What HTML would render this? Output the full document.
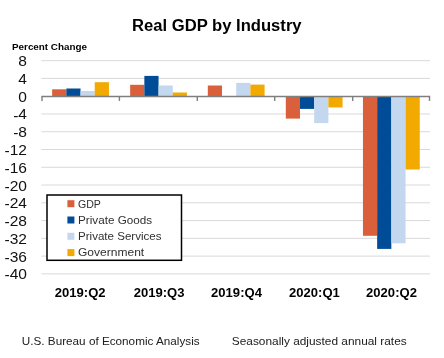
<!DOCTYPE html><html><head><meta charset="utf-8"><style>html,body{margin:0;padding:0;background:#fff;width:444px;height:358px;overflow:hidden}svg{display:block;will-change:transform}text{font-family:"Liberation Sans",sans-serif}</style></head><body>
<svg width="444" height="358" viewBox="0 0 444 358">
<rect width="444" height="358" fill="#fff"/>
<line x1="41.3" x2="430" y1="60.67" y2="60.67" stroke="#D9D9D9" stroke-width="1"/>
<line x1="41.3" x2="430" y1="78.43" y2="78.43" stroke="#D9D9D9" stroke-width="1"/>
<line x1="41.3" x2="430" y1="113.97" y2="113.97" stroke="#D9D9D9" stroke-width="1"/>
<line x1="41.3" x2="430" y1="131.73" y2="131.73" stroke="#D9D9D9" stroke-width="1"/>
<line x1="41.3" x2="430" y1="149.50" y2="149.50" stroke="#D9D9D9" stroke-width="1"/>
<line x1="41.3" x2="430" y1="167.27" y2="167.27" stroke="#D9D9D9" stroke-width="1"/>
<line x1="41.3" x2="430" y1="185.03" y2="185.03" stroke="#D9D9D9" stroke-width="1"/>
<line x1="41.3" x2="430" y1="202.80" y2="202.80" stroke="#D9D9D9" stroke-width="1"/>
<line x1="41.3" x2="430" y1="220.57" y2="220.57" stroke="#D9D9D9" stroke-width="1"/>
<line x1="41.3" x2="430" y1="238.33" y2="238.33" stroke="#D9D9D9" stroke-width="1"/>
<line x1="41.3" x2="430" y1="256.10" y2="256.10" stroke="#D9D9D9" stroke-width="1"/>
<line x1="41.3" x2="430" y1="273.87" y2="273.87" stroke="#D9D9D9" stroke-width="1"/>
<rect x="52.14" y="89.30" width="14.2" height="6.90" fill="#D9603B"/>
<rect x="66.34" y="88.50" width="14.2" height="7.70" fill="#004C97"/>
<rect x="80.54" y="91.00" width="14.2" height="5.20" fill="#C3D7EE"/>
<rect x="94.74" y="82.20" width="14.2" height="14.00" fill="#F2A900"/>
<rect x="130.15" y="84.80" width="14.2" height="11.40" fill="#D9603B"/>
<rect x="144.35" y="75.90" width="14.2" height="20.30" fill="#004C97"/>
<rect x="158.55" y="85.50" width="14.2" height="10.70" fill="#C3D7EE"/>
<rect x="172.75" y="92.50" width="14.2" height="3.70" fill="#F2A900"/>
<rect x="207.80" y="85.50" width="14.2" height="10.70" fill="#D9603B"/>
<rect x="236.20" y="82.90" width="14.2" height="13.30" fill="#C3D7EE"/>
<rect x="250.40" y="84.60" width="14.2" height="11.60" fill="#F2A900"/>
<rect x="285.80" y="96.20" width="14.2" height="22.40" fill="#D9603B"/>
<rect x="300.00" y="96.20" width="14.2" height="12.70" fill="#004C97"/>
<rect x="314.20" y="96.20" width="14.2" height="26.90" fill="#C3D7EE"/>
<rect x="328.40" y="96.20" width="14.2" height="11.20" fill="#F2A900"/>
<rect x="362.95" y="96.20" width="14.2" height="139.60" fill="#D9603B"/>
<rect x="377.15" y="96.20" width="14.2" height="152.70" fill="#004C97"/>
<rect x="391.35" y="96.20" width="14.2" height="147.10" fill="#C3D7EE"/>
<rect x="405.55" y="96.20" width="14.2" height="73.30" fill="#F2A900"/>
<line x1="41.35" x2="430.15" y1="96.5" y2="96.5" stroke="#7F7F7F" stroke-width="1.5"/>
<line x1="42.00" x2="42.00" y1="96.5" y2="100.9" stroke="#7F7F7F" stroke-width="1.4"/>
<line x1="119.40" x2="119.40" y1="96.5" y2="100.9" stroke="#7F7F7F" stroke-width="1.4"/>
<line x1="197.30" x2="197.30" y1="96.5" y2="100.9" stroke="#7F7F7F" stroke-width="1.4"/>
<line x1="274.70" x2="274.70" y1="96.5" y2="100.9" stroke="#7F7F7F" stroke-width="1.4"/>
<line x1="352.70" x2="352.70" y1="96.5" y2="100.9" stroke="#7F7F7F" stroke-width="1.4"/>
<line x1="429.50" x2="429.50" y1="96.5" y2="100.9" stroke="#7F7F7F" stroke-width="1.4"/>
<text transform="translate(27.0,66.17) scale(1.08,1)" x="0" y="0" font-size="14.4" fill="#111" text-anchor="end">8</text>
<text transform="translate(27.0,83.93) scale(1.08,1)" x="0" y="0" font-size="14.4" fill="#111" text-anchor="end">4</text>
<text transform="translate(27.0,101.70) scale(1.08,1)" x="0" y="0" font-size="14.4" fill="#111" text-anchor="end">0</text>
<text transform="translate(27.0,119.47) scale(1.08,1)" x="0" y="0" font-size="14.4" fill="#111" text-anchor="end"><tspan dy="1.1">-</tspan><tspan dy="-1.1">4</tspan></text>
<text transform="translate(27.0,137.23) scale(1.08,1)" x="0" y="0" font-size="14.4" fill="#111" text-anchor="end"><tspan dy="1.1">-</tspan><tspan dy="-1.1">8</tspan></text>
<text transform="translate(27.0,155.00) scale(1.08,1)" x="0" y="0" font-size="14.4" fill="#111" text-anchor="end"><tspan dy="1.1">-</tspan><tspan dy="-1.1">12</tspan></text>
<text transform="translate(27.0,172.77) scale(1.08,1)" x="0" y="0" font-size="14.4" fill="#111" text-anchor="end"><tspan dy="1.1">-</tspan><tspan dy="-1.1">16</tspan></text>
<text transform="translate(27.0,190.53) scale(1.08,1)" x="0" y="0" font-size="14.4" fill="#111" text-anchor="end"><tspan dy="1.1">-</tspan><tspan dy="-1.1">20</tspan></text>
<text transform="translate(27.0,208.30) scale(1.08,1)" x="0" y="0" font-size="14.4" fill="#111" text-anchor="end"><tspan dy="1.1">-</tspan><tspan dy="-1.1">24</tspan></text>
<text transform="translate(27.0,226.07) scale(1.08,1)" x="0" y="0" font-size="14.4" fill="#111" text-anchor="end"><tspan dy="1.1">-</tspan><tspan dy="-1.1">28</tspan></text>
<text transform="translate(27.0,243.83) scale(1.08,1)" x="0" y="0" font-size="14.4" fill="#111" text-anchor="end"><tspan dy="1.1">-</tspan><tspan dy="-1.1">32</tspan></text>
<text transform="translate(27.0,261.60) scale(1.08,1)" x="0" y="0" font-size="14.4" fill="#111" text-anchor="end"><tspan dy="1.1">-</tspan><tspan dy="-1.1">36</tspan></text>
<text transform="translate(27.0,279.37) scale(1.08,1)" x="0" y="0" font-size="14.4" fill="#111" text-anchor="end"><tspan dy="1.1">-</tspan><tspan dy="-1.1">40</tspan></text>
<text x="132" y="31.4" font-size="16.8" font-weight="bold" fill="#000" textLength="169.6" lengthAdjust="spacingAndGlyphs">Real GDP by Industry</text>
<text x="12" y="49.8" font-size="8.8" font-weight="bold" fill="#000" textLength="75" lengthAdjust="spacingAndGlyphs">Percent Change</text>
<text x="54.80" y="297.1" font-size="13.5" font-weight="bold" fill="#000" textLength="50.8" lengthAdjust="spacingAndGlyphs">2019:Q2</text>
<text x="133.65" y="297.1" font-size="13.5" font-weight="bold" fill="#000" textLength="50.8" lengthAdjust="spacingAndGlyphs">2019:Q3</text>
<text x="211.10" y="297.1" font-size="13.5" font-weight="bold" fill="#000" textLength="50.8" lengthAdjust="spacingAndGlyphs">2019:Q4</text>
<text x="289.00" y="297.1" font-size="13.5" font-weight="bold" fill="#000" textLength="50.8" lengthAdjust="spacingAndGlyphs">2020:Q1</text>
<text x="366.10" y="297.1" font-size="13.5" font-weight="bold" fill="#000" textLength="50.8" lengthAdjust="spacingAndGlyphs">2020:Q2</text>
<rect x="47" y="195" width="134.5" height="65.3" fill="#fff" stroke="#000" stroke-width="1.5"/>
<rect x="67.4" y="200.20" width="7" height="7" fill="#D9603B"/>
<text x="78" y="207.50" font-size="11" fill="#303030" textLength="22.9" lengthAdjust="spacingAndGlyphs">GDP</text>
<rect x="67.4" y="216.50" width="7" height="7" fill="#004C97"/>
<text x="78" y="223.80" font-size="11" fill="#303030" textLength="74.2" lengthAdjust="spacingAndGlyphs">Private Goods</text>
<rect x="67.4" y="232.80" width="7" height="7" fill="#C3D7EE"/>
<text x="78" y="240.10" font-size="11" fill="#303030" textLength="83.6" lengthAdjust="spacingAndGlyphs">Private Services</text>
<rect x="67.4" y="249.10" width="7" height="7" fill="#F2A900"/>
<text x="78" y="256.40" font-size="11" fill="#303030" textLength="66.2" lengthAdjust="spacingAndGlyphs">Government</text>
<text x="21.8" y="344.9" font-size="11.3" fill="#202020" textLength="177.8" lengthAdjust="spacingAndGlyphs">U.S. Bureau of Economic Analysis</text>
<text x="231.8" y="344.9" font-size="11.3" fill="#202020" textLength="174.9" lengthAdjust="spacingAndGlyphs">Seasonally adjusted annual rates</text>
</svg></body></html>
